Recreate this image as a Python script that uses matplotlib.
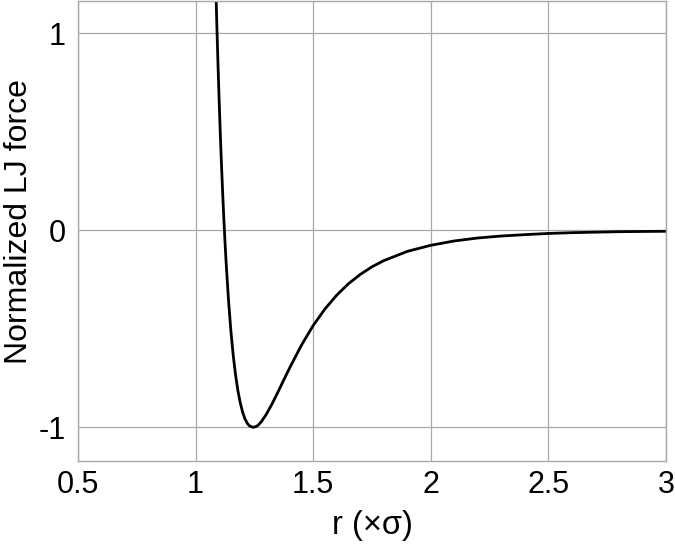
import matplotlib
matplotlib.use('Agg')
import matplotlib.pyplot as plt

plt.rcParams['font.family'] = ['Liberation Sans', 'DejaVu Sans']

# distance r (in units of sigma) and normalized LJ force
r_vals = [1.080, 1.085, 1.090, 1.095, 1.100, 1.105, 1.110, 1.115, 1.120,
          1.125, 1.130, 1.140, 1.150, 1.160, 1.170, 1.180, 1.190, 1.200,
          1.210, 1.220, 1.230, 1.245, 1.260, 1.270, 1.280, 1.300, 1.325,
          1.350, 1.375, 1.400, 1.450, 1.500, 1.550, 1.600, 1.650, 1.700,
          1.750, 1.800, 1.900, 2.000, 2.100, 2.200, 2.300, 2.400, 2.500,
          2.600, 2.800, 3.000]
force = [1.520, 1.278, 1.055, 0.850, 0.663, 0.491, 0.334, 0.191, 0.060,
         -0.059, -0.168, -0.356, -0.510, -0.635, -0.735, -0.815, -0.876,
         -0.923, -0.957, -0.980, -0.993, -1.000, -0.994, -0.984, -0.970,
         -0.935, -0.881, -0.821, -0.759, -0.698, -0.583, -0.483, -0.399,
         -0.329, -0.271, -0.224, -0.185, -0.154, -0.107, -0.076, -0.054,
         -0.039, -0.029, -0.022, -0.016, -0.012, -0.007, -0.005]

x_ticks = [0.5, 1, 1.5, 2, 2.5, 3]
x_tick_labels = ['0.5', '1', '1.5', '2', '2.5', '3']
y_ticks = [-1, 0, 1]
y_tick_labels = ['-1', '0', '1']

fig = plt.figure(figsize=(6.75, 5.44), dpi=100)
ax = fig.add_axes([78 / 675, 1 - 460.5 / 544, 588 / 675, 460 / 544])

ax.plot(r_vals, force, color='black', lw=2.0, solid_capstyle='round')

ax.set_xlim(0.5, 3)
ax.set_ylim(-1.168, 1.166)
ax.set_xticks(x_ticks)
ax.set_xticklabels(x_tick_labels)
ax.set_yticks(y_ticks)
ax.set_yticklabels(y_tick_labels)
ax.tick_params(axis='both', length=0, labelsize=22)
ax.tick_params(axis='x', pad=7)
ax.tick_params(axis='y', pad=9)

ax.grid(True, color='#a8a8a8', lw=0.9)
ax.set_axisbelow(True)
for sp in ax.spines.values():
    sp.set_color('#a8a8a8')
    sp.set_linewidth(1.0)

ax.set_xlabel('r (\u00d7\u03c3)', fontsize=23.5, labelpad=7)
ax.set_ylabel('Normalized LJ force', fontsize=23, va='center')
ax.yaxis.set_label_coords(-0.1, 0.52)

fig.savefig('out.png', dpi=100)
